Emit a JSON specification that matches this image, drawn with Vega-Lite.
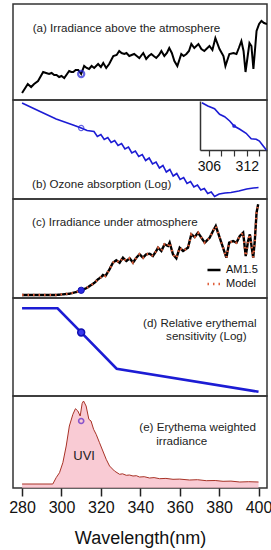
{
  "$schema": "https://vega.github.io/schema/vega-lite/v6.json",
  "padding": {"left": 7, "top": 3, "right": 9, "bottom": 2},
  "spacing": 0,
  "bounds": "flush",
  "config": {
    "view": {"stroke": "#333333", "strokeWidth": 1.5},
    "font": "Liberation Sans",
    "text": {"font": "Liberation Sans", "fontSize": 11.6, "color": "#222222"},
    "axis": {"labelFont": "Liberation Sans", "titleFont": "Liberation Sans", "grid": false}
  },
  "resolve": {
    "scale": {"x": "independent", "y": "independent", "color": "independent", "strokeDash": "independent"},
    "legend": {"color": "independent", "strokeDash": "independent"}
  },
  "vconcat": [
    {
      "width": 254, "height": 96,
      "layer": [
        {
          "data": {"values": [
            {"wl": 280, "v": 7}, {"wl": 282.9, "v": 16}, {"wl": 284.6, "v": 13}, {"wl": 286.1, "v": 16},
            {"wl": 288.1, "v": 19}, {"wl": 290.7, "v": 28}, {"wl": 292.2, "v": 27}, {"wl": 293.7, "v": 26},
            {"wl": 295, "v": 27}, {"wl": 296.3, "v": 25}, {"wl": 297.5, "v": 25}, {"wl": 298.8, "v": 23},
            {"wl": 300, "v": 24}, {"wl": 301.4, "v": 22}, {"wl": 303.9, "v": 29}, {"wl": 305, "v": 28},
            {"wl": 306, "v": 28}, {"wl": 307.2, "v": 30}, {"wl": 308.5, "v": 30}, {"wl": 310, "v": 26},
            {"wl": 311.5, "v": 34}, {"wl": 312.8, "v": 32}, {"wl": 314, "v": 31}, {"wl": 315.3, "v": 34},
            {"wl": 316.6, "v": 32}, {"wl": 318.6, "v": 36}, {"wl": 320, "v": 33}, {"wl": 321.2, "v": 37},
            {"wl": 322.7, "v": 32}, {"wl": 324.2, "v": 36}, {"wl": 326.3, "v": 44}, {"wl": 328, "v": 45},
            {"wl": 329.3, "v": 49}, {"wl": 330.5, "v": 47}, {"wl": 331.9, "v": 46}, {"wl": 333, "v": 47},
            {"wl": 334.4, "v": 44}, {"wl": 335.6, "v": 45}, {"wl": 336.9, "v": 46}, {"wl": 338.2, "v": 44},
            {"wl": 339.5, "v": 42}, {"wl": 341.5, "v": 47}, {"wl": 343, "v": 41}, {"wl": 344.3, "v": 44},
            {"wl": 345.6, "v": 46}, {"wl": 346.8, "v": 44}, {"wl": 348.1, "v": 42}, {"wl": 349.5, "v": 45},
            {"wl": 350.7, "v": 49}, {"wl": 352.2, "v": 44}, {"wl": 353.5, "v": 47}, {"wl": 354.7, "v": 52},
            {"wl": 356, "v": 47}, {"wl": 357.3, "v": 39}, {"wl": 358.8, "v": 34}, {"wl": 360.8, "v": 46},
            {"wl": 362, "v": 44}, {"wl": 363.4, "v": 46}, {"wl": 364.7, "v": 49}, {"wl": 365.9, "v": 56},
            {"wl": 367.4, "v": 52}, {"wl": 369.5, "v": 56}, {"wl": 371, "v": 51}, {"wl": 372.5, "v": 49},
            {"wl": 375.1, "v": 54}, {"wl": 376.6, "v": 50}, {"wl": 378.1, "v": 62}, {"wl": 380.2, "v": 51},
            {"wl": 382.2, "v": 44}, {"wl": 383.2, "v": 34}, {"wl": 385.2, "v": 46}, {"wl": 387.3, "v": 47},
            {"wl": 388.8, "v": 46}, {"wl": 390, "v": 52}, {"wl": 391.3, "v": 59}, {"wl": 392.4, "v": 49},
            {"wl": 393.4, "v": 28}, {"wl": 395.4, "v": 57}, {"wl": 396.4, "v": 54}, {"wl": 397.4, "v": 31},
            {"wl": 399, "v": 69}, {"wl": 400.3, "v": 76}, {"wl": 401.5, "v": 79}, {"wl": 402.8, "v": 77},
            {"wl": 404.3, "v": 76}
          ]},
          "mark": {"type": "line", "color": "#000000", "strokeWidth": 2, "clip": true},
          "encoding": {
            "x": {"field": "wl", "type": "quantitative", "scale": {"domain": [275.4, 404.3], "nice": false, "zero": false}, "axis": null},
            "y": {"field": "v", "type": "quantitative", "scale": {"domain": [0, 96], "nice": false, "zero": false}, "axis": null}
          }
        },
        {
          "data": {"values": [{"wl": 310, "v": 26}]},
          "mark": {"type": "point", "shape": "circle", "filled": false, "color": "#2323d8", "strokeWidth": 2.2, "size": 38},
          "encoding": {
            "x": {"field": "wl", "type": "quantitative"},
            "y": {"field": "v", "type": "quantitative"}
          }
        },
        {
          "data": {"values": [{}]},
          "mark": {"type": "text", "align": "left", "baseline": "middle"},
          "encoding": {
            "x": {"datum": 285.4},
            "y": {"datum": 71},
            "text": {"value": "(a) Irradiance above the atmosphere"}
          }
        }
      ]
    },
    {
      "width": 254, "height": 99,
      "layer": [
        {
          "layer": [
            {
              "data": {"values": [
                {"wl": 280, "v": 96}, {"wl": 288.6, "v": 88}, {"wl": 297.3, "v": 80}, {"wl": 305.9, "v": 74},
                {"wl": 310, "v": 71}, {"wl": 313, "v": 68.5}, {"wl": 316.5, "v": 67.5}, {"wl": 318.2, "v": 62.5},
                {"wl": 320, "v": 64.5}, {"wl": 321.7, "v": 59.5}, {"wl": 323.5, "v": 61.5}, {"wl": 325.2, "v": 56.5},
                {"wl": 327, "v": 58.5}, {"wl": 328.7, "v": 53.5}, {"wl": 330.5, "v": 55.5}, {"wl": 332.2, "v": 50},
                {"wl": 334, "v": 52}, {"wl": 335.7, "v": 46}, {"wl": 337.5, "v": 48}, {"wl": 339.2, "v": 42.5},
                {"wl": 341, "v": 44.5}, {"wl": 342.7, "v": 38.5}, {"wl": 344.5, "v": 41}, {"wl": 346.2, "v": 35},
                {"wl": 348, "v": 37}, {"wl": 349.7, "v": 31}, {"wl": 351.5, "v": 33.5}, {"wl": 353.2, "v": 27},
                {"wl": 355, "v": 29.5}, {"wl": 356.7, "v": 23}, {"wl": 358.5, "v": 25.5}, {"wl": 360.2, "v": 19.5},
                {"wl": 362, "v": 21.5}, {"wl": 363.7, "v": 15.5}, {"wl": 365.5, "v": 17.5}, {"wl": 367.2, "v": 12},
                {"wl": 369, "v": 14}, {"wl": 370.7, "v": 9}, {"wl": 372.5, "v": 10.5}, {"wl": 374.2, "v": 5.5},
                {"wl": 376, "v": 7}, {"wl": 377.7, "v": 2.5}, {"wl": 380, "v": 5}, {"wl": 383, "v": 6},
                {"wl": 386, "v": 6.5}, {"wl": 390, "v": 8}, {"wl": 394, "v": 10}, {"wl": 397.4, "v": 11},
                {"wl": 400, "v": 11.5}
              ]},
              "mark": {"type": "line", "color": "#1c1cd4", "strokeWidth": 1.6, "clip": true},
              "encoding": {
                "x": {"field": "wl", "type": "quantitative", "scale": {"domain": [275.4, 404.3], "nice": false, "zero": false}, "axis": null},
                "y": {"field": "v", "type": "quantitative", "scale": {"domain": [0, 99], "nice": false, "zero": false}, "axis": null}
              }
            },
            {
              "data": {"values": [{"wl": 310, "v": 71}]},
              "mark": {"type": "point", "shape": "circle", "filled": false, "color": "#2323d8", "strokeWidth": 1.2, "size": 28},
              "encoding": {
                "x": {"field": "wl", "type": "quantitative"},
                "y": {"field": "v", "type": "quantitative"}
              }
            },
            {
              "data": {"values": [{}]},
              "mark": {"type": "text", "align": "left", "baseline": "middle"},
              "encoding": {
                "x": {"datum": 285.1},
                "y": {"datum": 13.7},
                "text": {"value": "(b) Ozone absorption (Log)"}
              }
            }
          ]
        },
        {
          "layer": [
            {
              "data": {"values": [
                {"wl": 304.9, "v": 47.3}, {"wl": 305.84, "v": 44}, {"wl": 306.9, "v": 41.3}, {"wl": 307.7, "v": 35.7},
                {"wl": 308.5, "v": 33.3}, {"wl": 309.3, "v": 29}, {"wl": 310, "v": 24}, {"wl": 310.9, "v": 20.7},
                {"wl": 311.9, "v": 16.7}, {"wl": 312.7, "v": 11.3}, {"wl": 313.5, "v": 10.7}, {"wl": 314, "v": 9},
                {"wl": 314.6, "v": 4}, {"wl": 315.1, "v": 0}
              ]},
              "mark": {"type": "line", "color": "#1c1cd4", "strokeWidth": 1.6, "clip": false},
              "encoding": {
                "x": {"field": "wl", "type": "quantitative",
                  "scale": {"domain": [304.6, 315.2], "range": [187, 254], "nice": false, "zero": false},
                  "axis": {"orient": "bottom", "offset": -49, "values": [306, 308, 310, 312, 314],
                    "labelExpr": "datum.value == 306 || datum.value == 312 ? datum.label : ''",
                    "tickSize": 6, "tickWidth": 1.2, "tickColor": "#333333", "domainColor": "#333333", "domainWidth": 1.5,
                    "labelFontSize": 14, "labelColor": "#111111", "labelPadding": 3, "title": null, "grid": false}},
                "y": {"field": "v", "type": "quantitative",
                  "scale": {"domain": [0, 49], "range": [50, 1], "nice": false, "zero": false},
                  "axis": {"orient": "left", "offset": -187, "ticks": false, "labels": false, "title": null, "grid": false,
                    "domainColor": "#333333", "domainWidth": 1.5}}
              }
            },
            {
              "data": {"values": [{"wl": 310, "v": 24}]},
              "mark": {"type": "point", "shape": "circle", "filled": true, "color": "#2323d8", "opacity": 1, "size": 14},
              "encoding": {
                "x": {"field": "wl", "type": "quantitative"},
                "y": {"field": "v", "type": "quantitative"}
              }
            }
          ]
        }
      ],
      "resolve": {"scale": {"x": "independent", "y": "independent"}, "axis": {"x": "independent", "y": "independent"}}
    },
    {
      "width": 254, "height": 99,
      "layer": [
        {
          "data": {"values": [
            {"wl": 280, "am": 3, "model": 3}, {"wl": 288.6, "am": 3, "model": 3}, {"wl": 297.3, "am": 3, "model": 3},
            {"wl": 304, "am": 4.3, "model": 4.3}, {"wl": 307.5, "am": 6, "model": 6}, {"wl": 310, "am": 7.7, "model": 7.7},
            {"wl": 312.5, "am": 9.7, "model": 9.7}, {"wl": 315.1, "am": 13, "model": 13}, {"wl": 316.8, "am": 15.3, "model": 15.3},
            {"wl": 318.5, "am": 18.7, "model": 18.7}, {"wl": 320.2, "am": 21, "model": 21}, {"wl": 321, "am": 23, "model": 23},
            {"wl": 322.3, "am": 22, "model": 22}, {"wl": 324.4, "am": 28.7, "model": 28.7}, {"wl": 326.1, "am": 35.3, "model": 35.3},
            {"wl": 327.8, "am": 37.7, "model": 37.7}, {"wl": 329.5, "am": 35.3, "model": 35.3}, {"wl": 331.2, "am": 40.3, "model": 40.3},
            {"wl": 332.9, "am": 37, "model": 37}, {"wl": 334.6, "am": 39.7, "model": 39.7}, {"wl": 336.3, "am": 35.3, "model": 35.3},
            {"wl": 338, "am": 40.3, "model": 40.3}, {"wl": 339.6, "am": 43.7, "model": 43.7}, {"wl": 341.4, "am": 40.3, "model": 40.3},
            {"wl": 343, "am": 43.7, "model": 43.7}, {"wl": 344.7, "am": 44.3, "model": 44.3}, {"wl": 346.4, "am": 42, "model": 42},
            {"wl": 348.1, "am": 47, "model": 47}, {"wl": 349, "am": 50.3, "model": 50.3}, {"wl": 350.7, "am": 47, "model": 47},
            {"wl": 352.3, "am": 53.7, "model": 53.7}, {"wl": 354.1, "am": 52, "model": 52}, {"wl": 354.9, "am": 55.3, "model": 55.3},
            {"wl": 356.6, "am": 43.7, "model": 43.7}, {"wl": 358.3, "am": 39.7, "model": 39.7}, {"wl": 360, "am": 50.3, "model": 50.3},
            {"wl": 361.7, "am": 47, "model": 47}, {"wl": 364.2, "am": 50.3, "model": 50.3}, {"wl": 365.9, "am": 63.7, "model": 63.7},
            {"wl": 367.6, "am": 61, "model": 61}, {"wl": 369.3, "am": 65.3, "model": 65.3}, {"wl": 371, "am": 60.3, "model": 60.3},
            {"wl": 372.7, "am": 55.3, "model": 55.3}, {"wl": 375.2, "am": 60.3, "model": 60.3}, {"wl": 376.9, "am": 67, "model": 67},
            {"wl": 378.3, "am": 72, "model": 72}, {"wl": 380.3, "am": 60.3, "model": 60.3}, {"wl": 382, "am": 50.3, "model": 50.3},
            {"wl": 383.7, "am": 40.3, "model": 40.3}, {"wl": 385.1, "am": 55.3, "model": 55.3}, {"wl": 387.1, "am": 57, "model": 57},
            {"wl": 388.8, "am": 55.3, "model": 55.3}, {"wl": 390.5, "am": 62, "model": 62}, {"wl": 392.2, "am": 65.3, "model": 65.3},
            {"wl": 393.5, "am": 42, "model": 42}, {"wl": 394.7, "am": 57, "model": 57}, {"wl": 395.6, "am": 63.7, "model": 63.7},
            {"wl": 397.3, "am": 40.3, "model": 40.3}, {"wl": 398.1, "am": 57, "model": 57}, {"wl": 399, "am": 85.3, "model": 85.3},
            {"wl": 399.8, "am": 93.7, "model": 93.7}
          ]},
          "transform": [{"fold": ["am", "model"], "as": ["s", "val"]}],
          "mark": {"type": "line", "strokeWidth": 2.4, "clip": true},
          "encoding": {
            "x": {"field": "wl", "type": "quantitative", "scale": {"domain": [275.4, 404.3], "nice": false, "zero": false}, "axis": null},
            "y": {"field": "val", "type": "quantitative", "scale": {"domain": [0, 99], "nice": false, "zero": false}, "axis": null},
            "color": {"field": "s", "type": "nominal",
              "scale": {"domain": ["am", "model"], "range": ["#000000", "#e0603c"]},
              "legend": {"orient": "bottom-right", "title": null, "symbolType": "stroke", "symbolStrokeWidth": 2.4, "symbolSize": 170,
                "labelFontSize": 11, "labelFont": "Liberation Sans", "labelColor": "#111111",
                "labelExpr": "datum.label == 'am' ? 'AM1.5' : 'Model'", "offset": 9, "padding": 0, "rowPadding": 1}},
            "strokeDash": {"field": "s", "type": "nominal",
              "scale": {"domain": ["am", "model"], "range": [[1, 0], [1.5, 4]]},
              "legend": {"orient": "bottom-right", "title": null, "symbolType": "stroke", "symbolStrokeWidth": 2.4, "symbolSize": 170,
                "labelFontSize": 11, "labelFont": "Liberation Sans", "labelColor": "#111111",
                "labelExpr": "datum.label == 'am' ? 'AM1.5' : 'Model'", "offset": 9, "padding": 0, "rowPadding": 1}}
          }
        },
        {
          "data": {"values": [{"wl": 310, "v": 7.7}]},
          "mark": {"type": "point", "shape": "circle", "filled": true, "color": "#2a2ae0", "opacity": 1, "size": 40, "stroke": "#1515b0", "strokeWidth": 1},
          "encoding": {
            "x": {"field": "wl", "type": "quantitative"},
            "y": {"field": "v", "type": "quantitative"}
          }
        },
        {
          "data": {"values": [{}]},
          "mark": {"type": "text", "align": "left", "baseline": "middle"},
          "encoding": {
            "x": {"datum": 285.1},
            "y": {"datum": 75.3},
            "text": {"value": "(c) Irradiance under atmosphere"}
          }
        }
      ]
    },
    {
      "width": 254, "height": 98,
      "layer": [
        {
          "data": {"values": [
            {"wl": 280, "s": 1}, {"wl": 298, "s": 1}, {"wl": 310, "s": 0.0745}, {"wl": 328, "s": 0.00151}, {"wl": 400, "s": 0.000126}
          ]},
          "mark": {"type": "line", "color": "#1c1cd4", "strokeWidth": 2.6, "clip": true},
          "encoding": {
            "x": {"field": "wl", "type": "quantitative", "scale": {"domain": [275.4, 404.3], "nice": false, "zero": false}, "axis": null},
            "y": {"field": "s", "type": "quantitative", "scale": {"type": "log", "domain": [0.0000798, 3.03], "nice": false}, "axis": null}
          }
        },
        {
          "data": {"values": [{"wl": 310, "s": 0.0745}]},
          "mark": {"type": "point", "shape": "circle", "filled": true, "color": "#3a3af0", "opacity": 1, "size": 48, "stroke": "#1010b0", "strokeWidth": 1.5},
          "encoding": {
            "x": {"field": "wl", "type": "quantitative"},
            "y": {"field": "s", "type": "quantitative"}
          }
        },
        {
          "data": {"values": [{}]},
          "mark": {"type": "text", "align": "left", "baseline": "middle"},
          "encoding": {
            "x": {"datum": 341.4},
            "y": {"datum": 0.184},
            "text": {"value": "(d) Relative erythemal"}
          }
        },
        {
          "data": {"values": [{}]},
          "mark": {"type": "text", "align": "left", "baseline": "middle"},
          "encoding": {
            "x": {"datum": 353.1},
            "y": {"datum": 0.0455},
            "text": {"value": "sensitivity (Log)"}
          }
        }
      ]
    },
    {
      "width": 254, "height": 92,
      "layer": [
        {
          "data": {"values": [
            {"wl": 280, "v": 4}, {"wl": 295.6, "v": 4}, {"wl": 297.3, "v": 10.3}, {"wl": 299, "v": 15.3},
            {"wl": 300.7, "v": 25.3}, {"wl": 302.4, "v": 42}, {"wl": 304, "v": 62}, {"wl": 305.8, "v": 73.7},
            {"wl": 307.1, "v": 79.3}, {"wl": 308.3, "v": 77}, {"wl": 309.5, "v": 72}, {"wl": 310.5, "v": 84.7},
            {"wl": 311.2, "v": 87}, {"wl": 312.5, "v": 82}, {"wl": 313.9, "v": 68.7}, {"wl": 315, "v": 67},
            {"wl": 316.3, "v": 58.7}, {"wl": 317.6, "v": 53.7}, {"wl": 319.3, "v": 45.3}, {"wl": 321, "v": 37},
            {"wl": 322.7, "v": 28.7}, {"wl": 324.4, "v": 22}, {"wl": 326.9, "v": 17}, {"wl": 329.5, "v": 13.7},
            {"wl": 331, "v": 14.2}, {"wl": 332.9, "v": 12.7}, {"wl": 334.5, "v": 13}, {"wl": 336.3, "v": 12},
            {"wl": 338, "v": 12.3}, {"wl": 339.6, "v": 11}, {"wl": 342, "v": 11.3}, {"wl": 344.7, "v": 10},
            {"wl": 347, "v": 10.4}, {"wl": 349.8, "v": 9.3}, {"wl": 353, "v": 9.6}, {"wl": 356.6, "v": 8.7},
            {"wl": 360, "v": 8.9}, {"wl": 365, "v": 8}, {"wl": 369, "v": 8.3}, {"wl": 373.5, "v": 7.3},
            {"wl": 378, "v": 7.5}, {"wl": 382, "v": 6.7}, {"wl": 386, "v": 6.9}, {"wl": 390.5, "v": 6},
            {"wl": 395, "v": 6.3}, {"wl": 400, "v": 6}
          ]},
          "mark": {"type": "area", "color": "#f7b5c2", "line": {"color": "#a83226", "strokeWidth": 1}, "clip": true},
          "encoding": {
            "x": {"field": "wl", "type": "quantitative", "scale": {"domain": [275.4, 404.3], "nice": false, "zero": false},
              "axis": {"values": [280, 300, 320, 340, 360, 380, 400], "tickSize": 8, "tickWidth": 1.5, "tickColor": "#222222",
                "domain": false, "labelFontSize": 16, "labelColor": "#111111", "labelPadding": 3,
                "title": "Wavelength(nm)", "titleFontSize": 18, "titleFontWeight": "normal", "titleColor": "#111111", "titlePadding": 14}},
            "y": {"field": "v", "type": "quantitative", "scale": {"domain": [0, 92], "nice": false, "zero": false}, "axis": null}
          }
        },
        {
          "data": {"values": [{"wl": 310, "v": 67}]},
          "mark": {"type": "point", "shape": "circle", "filled": false, "color": "#5a22c8", "strokeWidth": 1.6, "size": 26},
          "encoding": {
            "x": {"field": "wl", "type": "quantitative"},
            "y": {"field": "v", "type": "quantitative"}
          }
        },
        {
          "data": {"values": [{}]},
          "mark": {"type": "text", "align": "center", "baseline": "middle", "fontSize": 13},
          "encoding": {
            "x": {"datum": 311.5},
            "y": {"datum": 32},
            "text": {"value": "UVI"}
          }
        },
        {
          "data": {"values": [{}]},
          "mark": {"type": "text", "align": "left", "baseline": "middle"},
          "encoding": {
            "x": {"datum": 339.5},
            "y": {"datum": 60},
            "text": {"value": "(e) Erythema weighted"}
          }
        },
        {
          "data": {"values": [{}]},
          "mark": {"type": "text", "align": "left", "baseline": "middle"},
          "encoding": {
            "x": {"datum": 348.1},
            "y": {"datum": 46.3},
            "text": {"value": "irradiance"}
          }
        }
      ]
    }
  ]
}
